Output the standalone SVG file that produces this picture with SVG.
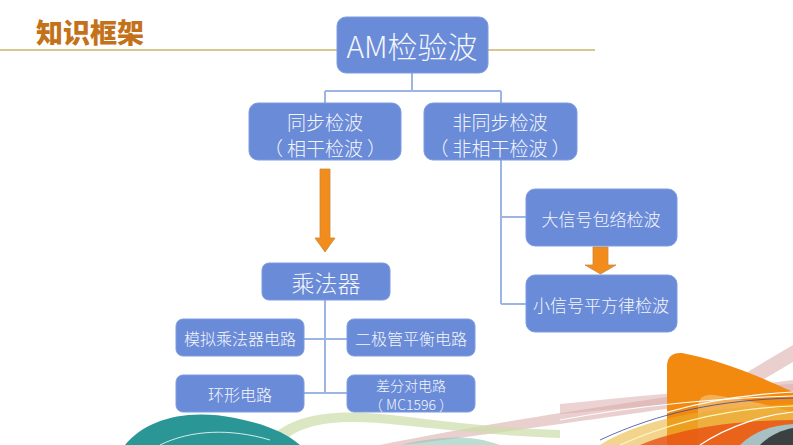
<svg xmlns="http://www.w3.org/2000/svg" width="793" height="445" viewBox="0 0 793 445">
<defs>
<style>
.box{fill:#6A8BD8;stroke:#7C9BE0;stroke-width:1}
.t{fill:#F4F6FB;font-family:"Noto Sans CJK SC","Microsoft YaHei",sans-serif;font-weight:300;text-anchor:middle;dominant-baseline:central}
.ln{fill:none;stroke:#9DB5E3;stroke-width:2}
.arr{fill:#F28C1C;stroke:#C98A3C;stroke-width:0.8}
</style>
</defs>
<rect width="793" height="445" fill="#FFFFFF"/>
<g id="decor">
<path d="M380,445 C480,425 620,402 793,380 L793,392 C620,414 480,437 400,445 Z" fill="#D9A8A8" opacity="0.55"/>
<path d="M560,404 C640,396 720,388 793,384 L793,395 C720,399 640,407 560,414 Z" fill="#D9A8A8" opacity="0.5"/>
<path d="M700,400 L793,345 L793,362 L712,410 Z" fill="#D9A8A8" opacity="0.55"/>
<path d="M262,445 C290,412 335,408 400,416 C450,422 500,428 560,430 L560,438 C500,436 450,430 400,425 C340,418 300,422 280,445 Z" fill="#CCDDA8" opacity="0.7"/>
<path d="M125,445 C145,420 185,408 235,418 C265,424 285,432 300,445 Z" fill="#2A9696"/>
<path d="M160,445 C190,430 230,428 270,440" fill="none" stroke="#FFFFFF" stroke-width="1" opacity="0.8"/>
<path d="M400,445 C440,436 470,434 500,445 Z" fill="#8FC6B8" opacity="0.6"/>
<path d="M667,445 L667,365 Q668,352 682,353 Q730,362 793,392 L793,445 Z" fill="#F28A10"/>
<path d="M698,445 L698,405 Q700,393 714,395 Q760,402 793,412 L793,445 Z" fill="#F5C070" opacity="0.7"/>
<path d="M600,445 C640,420 700,408 793,404 L793,445 Z" fill="#E8B030" opacity="0.55"/>
<path d="M640,445 C680,428 740,420 793,420 L793,445 Z" fill="#E84A10" opacity="0.75"/>
<path d="M740,445 C755,430 775,425 793,424 L793,445 Z" fill="#9AD0E0" opacity="0.85"/>
<path d="M760,445 C770,435 782,430 793,428 L793,445 Z" fill="#202020" opacity="0.8"/>
<path d="M590,445 C650,410 720,396 793,392" fill="none" stroke="#FFFFFF" stroke-width="1.2"/>
<path d="M620,445 C680,418 740,408 793,406" fill="none" stroke="#FFF4C0" stroke-width="1.2"/>
<path d="M700,445 C730,425 765,415 793,412" fill="none" stroke="#FFFFFF" stroke-width="1.2"/>
<path d="M600,440 C660,412 720,400 793,398" fill="none" stroke="#3A4A9A" stroke-width="0.8"/>
<path d="M560,420 C640,405 720,398 793,396" fill="none" stroke="#FFFFFF" stroke-width="1"/>
</g>
<g id="title">
<text x="36" y="31" font-family="'Noto Sans CJK SC',sans-serif" font-size="27" font-weight="900" fill="#C4721A" dominant-baseline="central">知识框架</text>
<line x1="0" y1="50" x2="595" y2="50" stroke="#D8C890" stroke-width="2"/>
</g>
<g id="connectors">
<path class="ln" d="M412,73 V91 M325,91 H501 M325,91 V103 M501,91 V103"/>
<path class="ln" d="M501,159 V304 M501,217 H526 M501,304 H526"/>
<path class="ln" d="M325,299 V393 M303,339 H347 M303,393 H347"/>
<path class="arr" d="M320,169 H330 V238 H335 L325,252 L315,238 H320 Z"/>
<path class="arr" d="M593,247 H608 V265 H616 L600.5,274 L585,265 H593 Z"/>
</g>
<g id="n-am"><rect class="box" x="337" y="17" width="151" height="56" rx="9"/><text class="t" x="412" y="45" font-size="30">AM检验波</text></g>
<g id="n-sync"><rect class="box" x="249" y="103" width="152" height="57" rx="9"/><text class="t" x="325" y="121" font-size="19">同步检波</text><text class="t" x="325" y="147" font-size="19">（<tspan dx="4">相干检波</tspan><tspan dx="4">）</tspan></text></g>
<g id="n-async"><rect class="box" x="424" y="103" width="153" height="57" rx="9"/><text class="t" x="500" y="121" font-size="19">非同步检波</text><text class="t" x="500" y="147" font-size="19">（<tspan dx="4">非相干检波</tspan><tspan dx="4">）</tspan></text></g>
<g id="n-mult"><rect class="box" x="262" y="263" width="128" height="37" rx="7"/><text class="t" x="326" y="282" font-size="23">乘法器</text></g>
<g id="n-analog"><rect class="box" x="176" y="319" width="128" height="37" rx="7"/><text class="t" x="240" y="338" font-size="16">模拟乘法器电路</text></g>
<g id="n-diode"><rect class="box" x="347" y="319" width="128" height="37" rx="7"/><text class="t" x="411" y="338" font-size="16">二极管平衡电路</text></g>
<g id="n-ring"><rect class="box" x="176" y="375" width="128" height="37" rx="7"/><text class="t" x="240" y="394" font-size="16">环形电路</text></g>
<g id="n-diff"><rect class="box" x="347" y="375" width="128" height="37" rx="7"/><text class="t" x="411" y="385" font-size="14">差分对电路</text><text class="t" x="411" y="404" font-size="14">（<tspan dx="3">MC1596</tspan><tspan dx="3">）</tspan></text></g>
<g id="n-large"><rect class="box" x="526" y="189" width="151" height="57" rx="9"/><text class="t" x="601" y="218" font-size="17">大信号包络检波</text></g>
<g id="n-small"><rect class="box" x="526" y="275" width="151" height="57" rx="9"/><text class="t" x="601" y="304" font-size="17">小信号平方律检波</text></g>
</svg>
